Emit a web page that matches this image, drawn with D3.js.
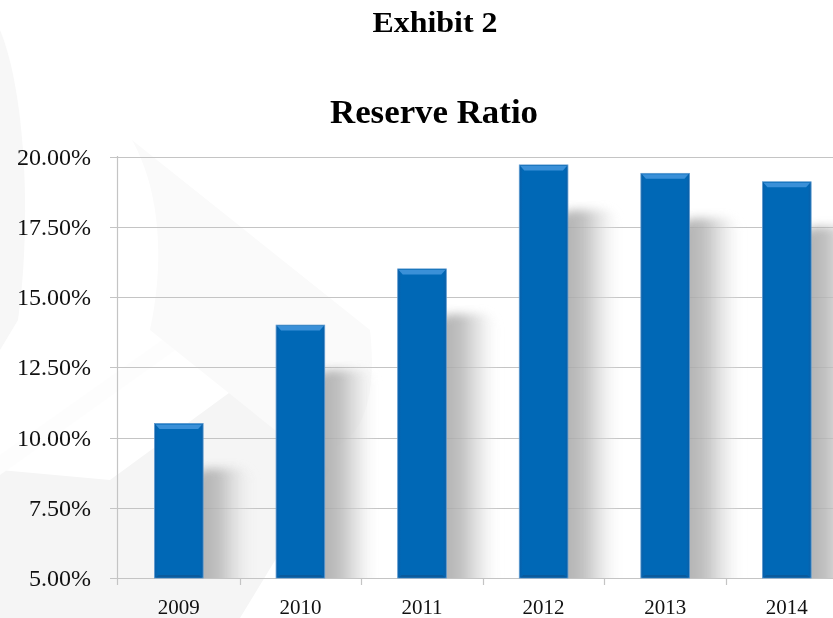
<!DOCTYPE html>
<html><head><meta charset="utf-8">
<script src="https://cdn.jsdelivr.net/npm/d3@7"></script>
<style>body{margin:0;background:#fff}svg{display:block}</style>
</head><body>
<script>
const categories = ["2009","2010","2011","2012","2013","2014"];
const values = [10.5, 14.0, 16.0, 19.7, 19.4, 19.1];
const yTicks = [5, 7.5, 10, 12.5, 15, 17.5, 20];
const title1 = "Exhibit 2";
const title2 = "Reserve Ratio";

const W = 833, H = 618;
const FONT = "'Liberation Serif', 'Times New Roman', serif";
const svg = d3.select("body").append("svg").attr("width", W).attr("height", H);
const defs = svg.append("defs");

// watermark background
svg.append("rect").attr("width", W).attr("height", H).attr("fill", "#fff");
svg.append("path").attr("d", "M0,30 C25,90 32,220 18,320 L0,350 Z").attr("fill", "#f7f7f7");
svg.append("path").attr("d", "M0,470 L0,618 L240,618 L330,470 L233,390 L110,480 Z").attr("fill", "#f5f5f5");
svg.append("path").attr("d", "M0,455 L233,290 L245,300 L0,475 Z").attr("fill", "#fdfdfd");
svg.append("path").attr("d", "M132,140 L370,330 C380,420 350,460 300,450 L150,330 C165,260 160,190 132,140 Z").attr("fill", "#fafafa");

const x = d3.scaleBand().domain(categories).range([118, 118 + 121.6 * 6]).paddingInner(0.6).paddingOuter(0.3);
const y = d3.scaleLinear().domain([5, 20]).range([578, 156.5]);

// gradients / filters
const sh = defs.append("linearGradient").attr("id", "sh").attr("x1", 0).attr("x2", 1).attr("y1", 0).attr("y2", 0);
sh.append("stop").attr("offset", 0).attr("stop-color", "#a2a2a2").attr("stop-opacity", 1);
sh.append("stop").attr("offset", 0.4).attr("stop-color", "#b4b4b4").attr("stop-opacity", 1);
sh.append("stop").attr("offset", 0.7).attr("stop-color", "#d6d6d6").attr("stop-opacity", 0.7);
sh.append("stop").attr("offset", 1).attr("stop-color", "#f2f2f2").attr("stop-opacity", 0);
const blur = defs.append("filter").attr("id", "blur").attr("x", "-30%").attr("y", "-10%").attr("width", "160%").attr("height", "120%");
blur.append("feGaussianBlur").attr("stdDeviation", 5);
defs.append("clipPath").attr("id", "plotclip").append("rect").attr("x", 118).attr("y", 100).attr("width", W).attr("height", 478);

const bg = defs.append("linearGradient").attr("id", "barg").attr("x1", 0).attr("x2", 1).attr("y1", 0).attr("y2", 0);
bg.append("stop").attr("offset", 0).attr("stop-color", "#0a5fa8");
bg.append("stop").attr("offset", 0.07).attr("stop-color", "#0068b6");
bg.append("stop").attr("offset", 0.93).attr("stop-color", "#0068b6");
bg.append("stop").attr("offset", 1).attr("stop-color", "#0a5fa8");

// gridlines
svg.append("g").selectAll("line").data(yTicks).join("line")
  .attr("x1", 110).attr("x2", W).attr("y1", d => Math.round(y(d)) + 0.5).attr("y2", d => Math.round(y(d)) + 0.5)
  .attr("stroke", "#c4c4c4").attr("stroke-width", 1.2);

// shadows
const data = categories.map((c, i) => ({c, v: values[i]}));
svg.append("g").attr("clip-path", "url(#plotclip)").attr("opacity", 0.85).selectAll("rect").data(data).join("rect")
  .attr("x", d => x(d.c) + x.bandwidth() - 10)
  .attr("y", d => y(d.v) + 45)
  .attr("width", 62)
  .attr("height", d => y(5) - y(d.v) - 30)
  .attr("rx", 16)
  .attr("fill", "url(#sh)").attr("filter", "url(#blur)");

// y axis line
svg.append("line").attr("x1", 117.5).attr("x2", 117.5).attr("y1", 156).attr("y2", 585).attr("stroke", "#c4c4c4").attr("stroke-width", 1.2);
// x ticks
const bounds = d3.range(categories.length + 1).map(i => 118 + 121.6 * i);
svg.append("g").selectAll("line").data(bounds.slice(1)).join("line")
  .attr("x1", d => Math.round(d) + 0.5).attr("x2", d => Math.round(d) + 0.5).attr("y1", 578).attr("y2", 585)
  .attr("stroke", "#c4c4c4").attr("stroke-width", 1.2);

// bars
const bars = svg.append("g").selectAll("g").data(data).join("g");
bars.append("rect")
  .attr("x", d => x(d.c)).attr("y", d => y(d.v))
  .attr("width", x.bandwidth()).attr("height", d => y(5) - y(d.v))
  .attr("fill", "url(#barg)").attr("stroke", "#5d9ad0").attr("stroke-width", 0.8);
bars.append("path")
  .attr("d", d => {
    const x0 = x(d.c), x1 = x0 + x.bandwidth(), t = y(d.v);
    return `M${x0+1},${t+1} L${x1-1},${t+1} L${x1-5},${t+5.5} L${x0+5},${t+5.5} Z`;
  }).attr("fill", "#3a90d8");
bars.append("path")
  .attr("d", d => {
    const x0 = x(d.c), x1 = x0 + x.bandwidth(), b = y(5);
    return `M${x0+1},${b-0.5} L${x1-1},${b-0.5} L${x1-4},${b-3} L${x0+4},${b-3} Z`;
  }).attr("fill", "#0a5a9c");

// y labels
svg.append("g").selectAll("text").data(yTicks).join("text")
  .attr("x", 91).attr("y", d => y(d) + 8)
  .attr("text-anchor", "end")
  .style("font-family", FONT).attr("font-size", 24).attr("fill", "#111")
  .text(d => d.toFixed(2) + "%");

// x labels
svg.append("g").selectAll("text").data(categories).join("text")
  .attr("x", d => x(d) + x.bandwidth() / 2).attr("y", 614)
  .attr("text-anchor", "middle")
  .style("font-family", FONT).attr("font-size", 21).attr("fill", "#111")
  .text(d => d);

// titles
svg.append("text").attr("x", 435).attr("y", 32).attr("text-anchor", "middle")
  .style("font-family", FONT).attr("font-weight", "bold").attr("font-size", 30).attr("fill", "#000")
  .attr("textLength", 125).attr("lengthAdjust", "spacingAndGlyphs").text(title1);
svg.append("text").attr("x", 434).attr("y", 123).attr("text-anchor", "middle")
  .style("font-family", FONT).attr("font-weight", "bold").attr("font-size", 33).attr("fill", "#000")
  .attr("textLength", 208).attr("lengthAdjust", "spacingAndGlyphs").text(title2);
</script>
</body></html>
